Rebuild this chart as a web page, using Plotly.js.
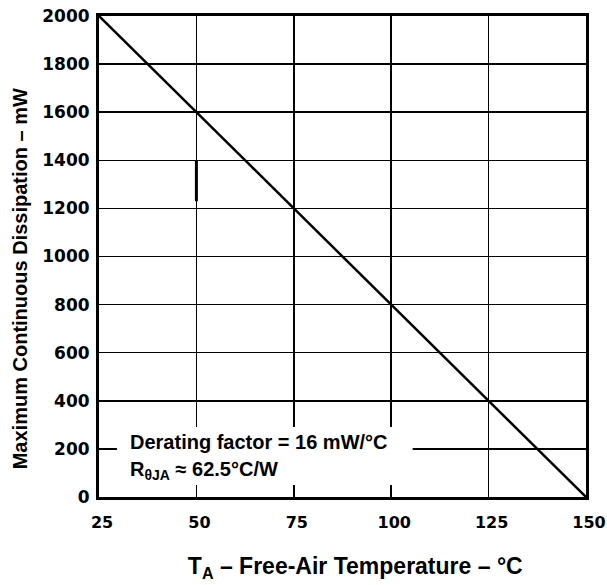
<!DOCTYPE html>
<html>
<head>
<meta charset="utf-8">
<script src="https://cdn.plot.ly/plotly-3.0.1.min.js"></script>
<style>html,body{margin:0;padding:0;background:#fff;}#chart{width:607px;height:585px;}</style>
</head>
<body>
<div id="chart"></div>
<script>
// Data
var temperature = [25, 50, 75, 100, 125, 150];          // T_A (°C)
var dissipation = [2000, 1600, 1200, 800, 400, 0];      // mW
var xTicks = [25, 50, 75, 100, 125, 150];
var yTicks = [0, 200, 400, 600, 800, 1000, 1200, 1400, 1600, 1800, 2000];
var noteLines = ["Derating factor = 16 mW/°C", "R<sub>θJA</sub> ≈ 62.5°C/W"];

var NB = "\u00a0";
function pad(n) { return new Array(n + 1).join(NB); }

var trace = {
  x: temperature, y: dissipation, type: "scatter", mode: "lines",
  line: {color: "#000", width: 2.5}, hoverinfo: "skip", showlegend: false
};

var layout = {
  width: 607, height: 585,
  margin: {l: 99, r: 21, t: 16, b: 88},
  paper_bgcolor: "#fff", plot_bgcolor: "#fff",
  showlegend: false,
  xaxis: {
    range: [25, 150], tickvals: xTicks, ticktext: xTicks.map(String),
    showgrid: true, gridcolor: "#000", gridwidth: 1.5,
    showline: true, linecolor: "#000", linewidth: 3, mirror: true,
    ticks: "", zeroline: false,
    tickfont: {family: "DejaVu Sans", size: 16, color: "#000", weight: "bold"},
    ticklabelstandoff: 9, ticklabelshift: 3, ticklabeloverflow: "allow",
    title: {text: "<b>" + pad(4) + "T<sub>A</sub> – Free-Air Temperature – °C</b>", font: {family: "Liberation Sans", size: 23, color: "#000"}, standoff: 27}
  },
  yaxis: {
    range: [0, 2000], tickvals: yTicks, ticktext: yTicks.map(String),
    showgrid: true, gridcolor: "#000", gridwidth: 1.5,
    showline: true, linecolor: "#000", linewidth: 3, mirror: true,
    ticks: "", zeroline: false,
    tickfont: {family: "DejaVu Sans", size: 17, color: "#000", weight: "bold"},
    ticklabelstandoff: 3, ticklabeloverflow: "allow",
    title: {text: "<b>Maximum Continuous Dissipation – mW" + pad(8) + "</b>", font: {family: "Liberation Sans", size: 20, color: "#000"}, standoff: 10}
  },
  shapes: [
    {type: "rect", xref: "x", yref: "y", x0: 29.6, x1: 105.5, y0: 50, y1: 291,
     fillcolor: "#fff", line: {width: 0}, layer: "above"},
    {type: "line", xref: "x", yref: "y", x0: 50, x1: 50, y0: 1230, y1: 1400,
     line: {color: "#000", width: 3}, layer: "above"}
  ],
  annotations: [
    {xref: "x", yref: "y", x: 32.5, y: 229, xanchor: "left", yanchor: "middle", showarrow: false,
     text: "<b>" + noteLines[0] + "</b>", font: {family: "Liberation Sans", size: 20, color: "#000"}},
    {xref: "x", yref: "y", x: 32.5, y: 112, xanchor: "left", yanchor: "middle", showarrow: false,
     text: "<b>" + noteLines[1] + "</b>", font: {family: "Liberation Sans", size: 20, color: "#000"}}
  ]
};

Plotly.newPlot("chart", [trace], layout, {displayModeBar: false, staticPlot: true});
</script>
</body>
</html>
